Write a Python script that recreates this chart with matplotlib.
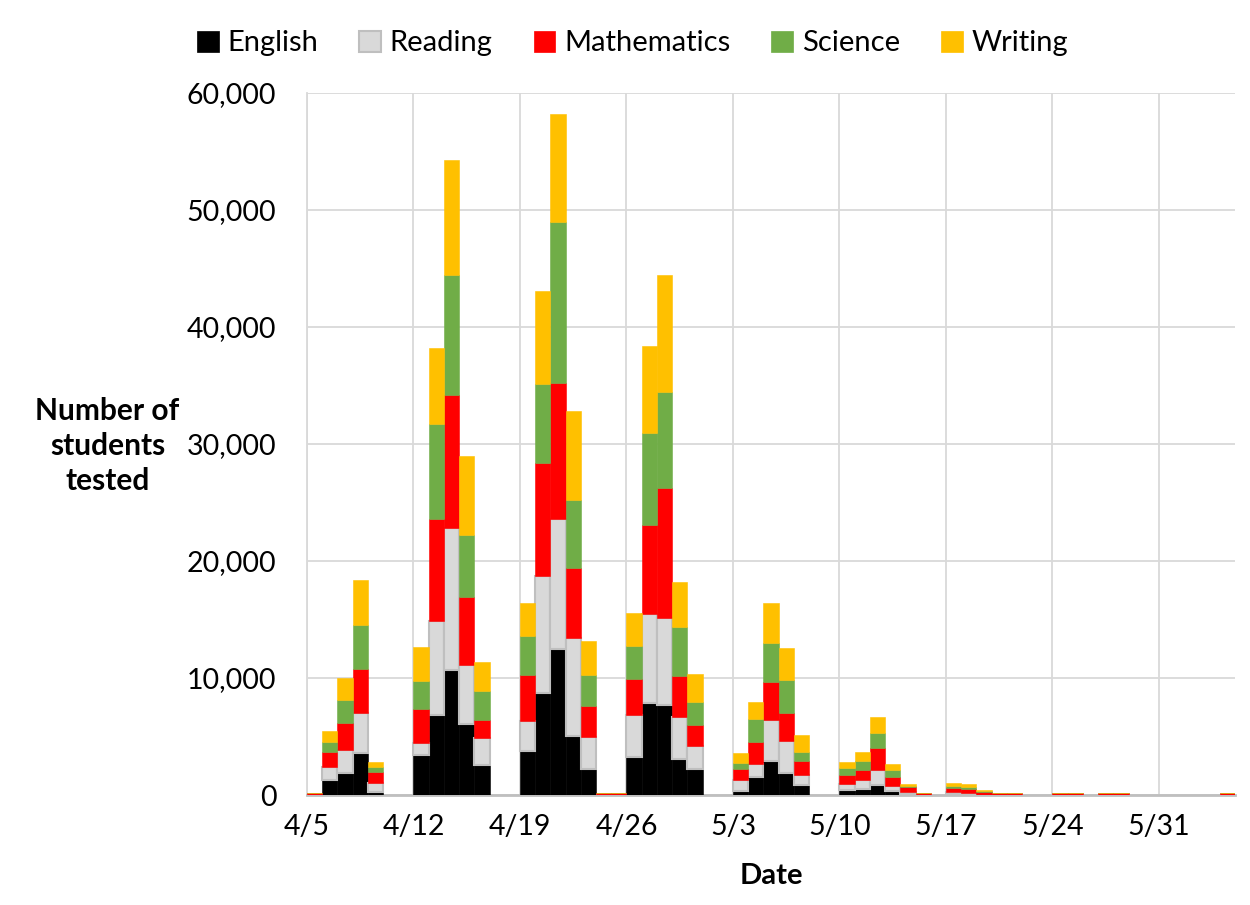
import numpy as np
import pandas as pd
import matplotlib
matplotlib.use("Agg")
import matplotlib.pyplot as plt
from matplotlib.patches import Patch

# dias com alunos testados (2021)
datas = ["2021-04-05", "2021-04-06", "2021-04-07", "2021-04-08", "2021-04-09",
         "2021-04-12", "2021-04-13", "2021-04-14", "2021-04-15", "2021-04-16",
         "2021-04-19", "2021-04-20", "2021-04-21", "2021-04-22", "2021-04-23",
         "2021-04-24", "2021-04-25",
         "2021-04-26", "2021-04-27", "2021-04-28", "2021-04-29", "2021-04-30",
         "2021-05-03", "2021-05-04", "2021-05-05", "2021-05-06", "2021-05-07",
         "2021-05-10", "2021-05-11", "2021-05-12", "2021-05-13", "2021-05-14",
         "2021-05-15",
         "2021-05-17", "2021-05-18", "2021-05-19", "2021-05-20", "2021-05-21",
         "2021-05-24", "2021-05-25", "2021-05-27", "2021-05-28", "2021-06-04"]

english = [0, 1300, 1900, 3600, 300,
           3400, 6800, 10650, 6050, 2550,
           3750, 8750, 12500, 5050, 2250,
           0, 0,
           3250, 7850, 7700, 3050, 2200,
           350, 1550, 2950, 1900, 850,
           450, 500, 850, 350, 80,
           0,
           50, 50, 0, 0, 0,
           0, 0, 0, 0, 0]
reading = [0, 1100, 1950, 3450, 700,
           1050, 8050, 12200, 5100, 2300,
           2600, 10000, 11100, 8400, 2700,
           0, 0,
           3550, 7650, 7400, 3650, 2000,
           900, 1100, 3450, 2750, 900,
           500, 750, 1300, 450, 150,
           0,
           200, 150, 30, 0, 0,
           0, 0, 0, 0, 0]
mathematics = [200, 1310, 2330, 3750, 1000,
               2870, 8750, 11300, 5800, 1600,
               3950, 9650, 11600, 5950, 2700,
               200, 200,
               3100, 7600, 11150, 3450, 1800,
               950, 1900, 3250, 2400, 1150,
               800, 900, 1850, 700, 430,
               200,
               350, 350, 200, 200, 200,
               200, 200, 200, 200, 200]
science = [0, 830, 1940, 3720, 430,
           2430, 8100, 10300, 5300, 2400,
           3300, 6750, 13800, 5850, 2600,
           0, 0,
           2800, 7850, 8200, 4250, 1950,
           500, 1950, 3350, 2800, 800,
           550, 750, 1300, 600, 100,
           0,
           200, 180, 80, 0, 0,
           0, 0, 0, 0, 0]
writing = [0, 940, 1910, 3850, 360,
           2870, 6550, 9850, 6700, 2500,
           2850, 7950, 9250, 7550, 2950,
           0, 0,
           2850, 7400, 10000, 3800, 2400,
           900, 1450, 3400, 2750, 1400,
           500, 800, 1400, 550, 200,
           0,
           230, 200, 140, 0, 0,
           0, 0, 0, 0, 0]

materias = ["English", "Reading", "Mathematics", "Science", "Writing"]
cores = ["#000000", "#D9D9D9", "#FF0000", "#70AD47", "#FFC000"]
bordas = ["#000000", "#BFBFBF", "#FF0000", "#70AD47", "#FFC000"]

inicio = pd.Timestamp("2021-04-05")
fim = pd.Timestamp("2021-06-05")
dias = (pd.to_datetime(datas) - inicio).days.values
semanas = pd.date_range(inicio, "2021-05-31", freq="7D")
rotulos = [f"{d.month}/{d.day}" for d in semanas]

plt.rcParams['font.family'] = ['Lato', 'DejaVu Sans']

fig = plt.figure(figsize=(12.5, 9.05), dpi=100)
ax = fig.add_axes([0.2456, 0.1215, 0.988 - 0.2456, 0.8972 - 0.1215])

base = np.zeros(len(dias))
for serie, nome, cor, borda in zip([english, reading, mathematics, science, writing],
                                   materias, cores, bordas):
    vals = np.array(serie, dtype=float)
    lw = 1.5 if nome == "Reading" else 0.4
    ax.bar(dias, vals, width=1.0, bottom=base, align='edge', color=cor,
           edgecolor=borda, linewidth=lw, zorder=3)
    base += vals

ax.set_xlim(0, (fim - inicio).days)
ax.set_ylim(0, 60000)
ax.set_xticks((semanas - inicio).days.values)
ax.set_xticklabels(rotulos)
ax.set_yticks(np.arange(0, 60001, 10000))
ax.yaxis.set_major_formatter(matplotlib.ticker.FuncFormatter(lambda v, p: f"{int(v):,}"))
ax.tick_params(axis='both', length=0, labelsize=20.5, colors='#000000')
ax.tick_params(axis='x', pad=14)
ax.tick_params(axis='y', pad=22)

ax.grid(True, color='#D9D9D9', linewidth=1.3, zorder=0)
for lado in ['top', 'right']:
    ax.spines[lado].set_visible(False)
ax.spines['left'].set_color('#D9D9D9')
ax.spines['left'].set_linewidth(1.3)
ax.spines['bottom'].set_color('#BFBFBF')
ax.spines['bottom'].set_linewidth(2)

ax.set_xlabel("Date", fontsize=21, fontweight='bold', labelpad=16)
fig.text(0.086, 0.507, "Number of\nstudents\ntested", fontsize=21.5, fontweight='bold',
         ha='center', va='center', linespacing=1.3)

handles = [Patch(facecolor=c, edgecolor=b, linewidth=1.5 if n == "Reading" else 0.5)
           for c, b, n in zip(cores, bordas, materias)]
fig.legend(handles, materias, loc='center', bbox_to_anchor=(0.506, 0.952), ncol=5,
           frameon=False, fontsize=21, handlelength=0.75, handleheight=0.75,
           handletextpad=0.3, columnspacing=1.4)

fig.savefig("out.png", dpi=100)
